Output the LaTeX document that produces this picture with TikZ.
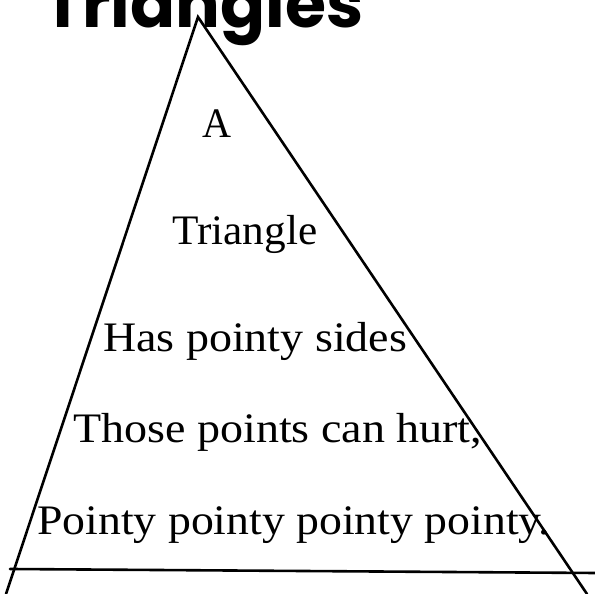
\documentclass[tikz,border=0pt]{standalone}
\usepackage{fontspec}
\setmainfont{Liberation Serif}
\newfontfamily\titlefont{Poppins}[UprightFont=* Bold]
\begin{document}
\begin{tikzpicture}[x=1pt,y=1pt,
  edge/.style={line width=2.6pt, line cap=round, line join=miter},
  verse/.style={anchor=base west, inner sep=0pt}]
\useasboundingbox (0,0) rectangle (595,594);
\fill[white] (0,0) rectangle (595,594);
% title
\node[anchor=base west, inner sep=0pt] (title) at (43,566)
  {\resizebox{320pt}{!}{\titlefont Triangles}};
% triangle
\coordinate (apex) at (198,577);
\coordinate (bl) at (6,0);
\coordinate (br) at (587,0);
\coordinate (hl) at (10,25);
\coordinate (hr) at (595,21);
\draw[edge] (bl) -- (apex) -- (br);
\draw[edge] (hl) -- (hr);
% verses
\node[verse] (l1) at (202,456) {\resizebox{29pt}{\height}{\fontsize{42}{48}\selectfont A}};
\node[verse] (l2) at (172,349) {\resizebox{145pt}{\height}{\fontsize{42}{48}\selectfont Triangle}};
\node[verse] (l3) at (103,242) {\resizebox{304pt}{\height}{\fontsize{42}{48}\selectfont Has pointy sides}};
\node[verse] (l4) at (73,151) {\resizebox{409pt}{\height}{\fontsize{42}{48}\selectfont Those points can hurt,}};
\node[verse] (l5) at (37,59) {\resizebox{513pt}{\height}{\fontsize{42}{48}\selectfont Pointy pointy pointy pointy.}};
\end{tikzpicture}
\end{document}
